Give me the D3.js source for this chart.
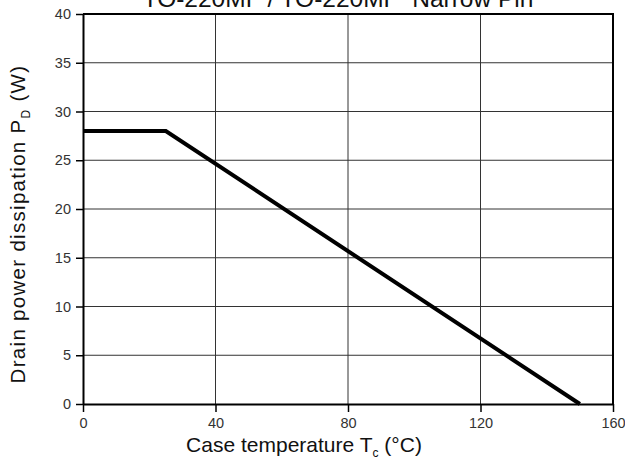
<!DOCTYPE html>
<html lang="en">
<head>
<meta charset="UTF-8">
<title>PD derating</title>
<script src="https://d3js.org/d3.v7.min.js"></script>
<style>
  body { margin: 0; padding: 0; background: #fff; }
  text { font-family: "Liberation Sans", Arial, sans-serif; }
</style>
</head>
<body>
<div id="chart"></div>
<script>
// data
const caseTemp = [0, 25, 150];
const powerDiss = [28, 28, 0];
const xTicks = [0, 40, 80, 120, 160];
const yTicks = [0, 5, 10, 15, 20, 25, 30, 35, 40];

const W = 625, H = 459;
const margin = {top: 14, right: 12, bottom: 55, left: 83};

const svg = d3.select("#chart").append("svg")
    .attr("width", W)
    .attr("height", H);

const x = d3.scaleLinear().domain([0, 160]).range([margin.left, W - margin.right]);
const y = d3.scaleLinear().domain([0, 40]).range([H - margin.bottom, margin.top]);

// grid
svg.append("g")
  .selectAll("line")
  .data(xTicks.slice(1, -1))
  .join("line")
    .attr("x1", d => x(d)).attr("x2", d => x(d))
    .attr("y1", y(0)).attr("y2", y(40))
    .attr("stroke", "#333").attr("stroke-width", 1);

svg.append("g")
  .selectAll("line")
  .data(yTicks.slice(1, -1))
  .join("line")
    .attr("x1", x(0)).attr("x2", x(160))
    .attr("y1", d => y(d)).attr("y2", d => y(d))
    .attr("stroke", "#333").attr("stroke-width", 1);

// axes
const xAxis = svg.append("g")
    .attr("transform", `translate(0,${y(0)})`)
    .call(d3.axisBottom(x).tickValues(xTicks).tickSize(8).tickPadding(6).tickSizeOuter(0));
const yAxis = svg.append("g")
    .attr("transform", `translate(${x(0)},0)`)
    .call(d3.axisLeft(y).tickValues(yTicks).tickSize(7).tickPadding(5).tickSizeOuter(0));

[xAxis, yAxis].forEach(a => {
  a.select(".domain").attr("stroke", "#000").attr("stroke-width", 2);
  a.selectAll(".tick line").attr("stroke", "#000").attr("stroke-width", 1.5);
  a.selectAll(".tick text").attr("font-size", 14.5).attr("fill", "#333")
    .attr("font-family", "Liberation Sans, Arial, sans-serif");
});

// top and right border
svg.append("path")
    .attr("d", `M${x(0)},${y(40)}H${x(160)}V${y(0)}`)
    .attr("fill", "none").attr("stroke", "#000").attr("stroke-width", 2);

// curve
const line = d3.line().x(d => x(d[0])).y(d => y(d[1]));
svg.append("path")
    .datum(caseTemp.map((t, i) => [t, powerDiss[i]]))
    .attr("d", line)
    .attr("fill", "none")
    .attr("stroke", "#000")
    .attr("stroke-width", 4);

// title (cut off at top, as in the original)
svg.append("text")
    .attr("x", 338).attr("y", 7)
    .attr("text-anchor", "middle")
    .attr("font-size", 24.5)
    .attr("fill", "#111")
    .attr("xml:space", "preserve")
    .text("TO-220MF / TO-220MF  Narrow Pin");

// x label
const xl = svg.append("text")
    .attr("x", 304).attr("y", 452)
    .attr("text-anchor", "middle")
    .attr("font-size", 21)
    .attr("fill", "#111");
xl.append("tspan").text("Case temperature T");
xl.append("tspan").attr("font-size", 12).attr("dy", 5).text("c");
xl.append("tspan").attr("dy", -5).text(" (°C)");

// y label
const yl = svg.append("text")
    .attr("transform", "translate(25,224) rotate(-90)")
    .attr("text-anchor", "middle")
    .attr("font-size", 20.5)
    .attr("letter-spacing", 1.3)
    .attr("fill", "#111");
yl.append("tspan").text("Drain power dissipation P");
yl.append("tspan").attr("font-size", 12).attr("dy", 5).text("D");
yl.append("tspan").attr("dy", -5).text(" (W)");
</script>
</body>
</html>
